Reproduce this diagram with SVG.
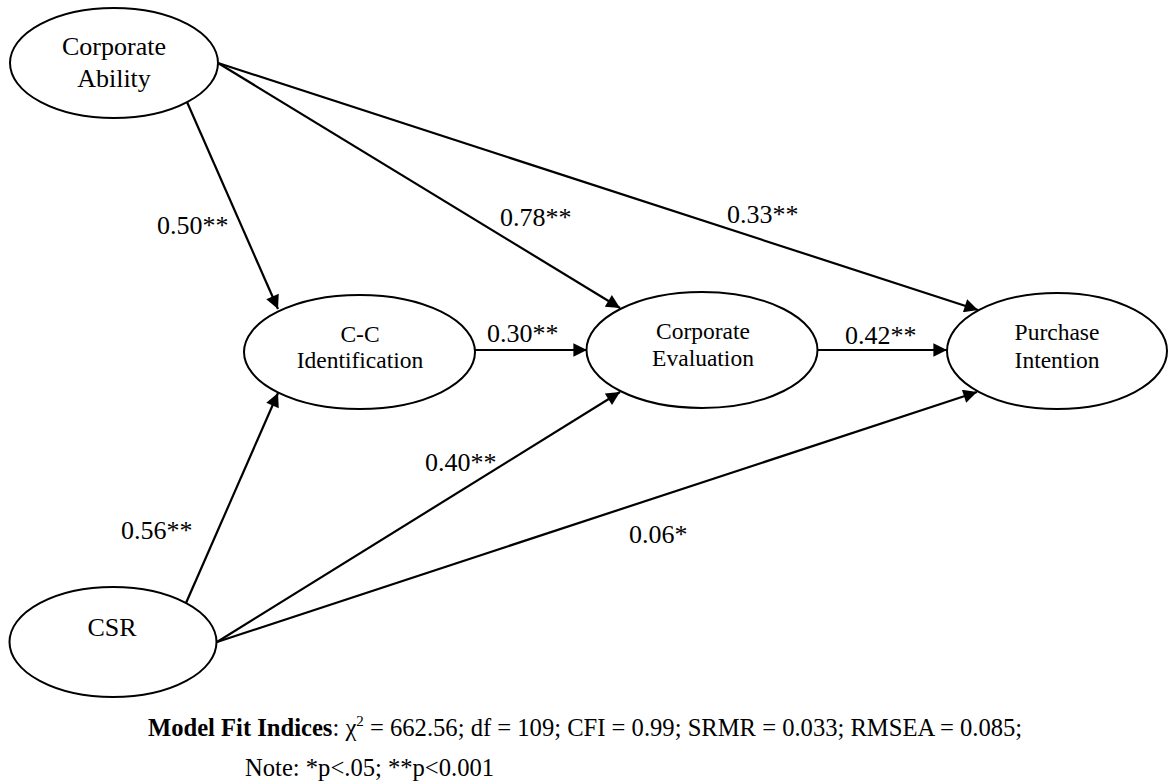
<svg xmlns="http://www.w3.org/2000/svg" width="1168" height="784" viewBox="0 0 1168 784">
  <style>
    .node ellipse { fill: #fff; stroke: #000; stroke-width: 2; }
    .node text { font-family: "Liberation Serif", "Times New Roman", serif; font-size: 23.5px; fill: #000; text-anchor: middle; }
    .node.big text { font-size: 26px; }
    .edge { stroke: #000; stroke-width: 2.2; fill: none; marker-end: url(#arrow); }
    .lbl { font-family: "Liberation Serif", "Times New Roman", serif; font-size: 26px; fill: #000; }
    .foot { font-family: "Liberation Serif", "Times New Roman", serif; font-size: 24.6px; fill: #000; }
  </style>
  <defs>
    <marker id="arrow" viewBox="0 0 10 10" refX="10" refY="5" markerWidth="7.5" markerHeight="6.2" markerUnits="strokeWidth" orient="auto">
      <path d="M0,0 L10,5 L0,10 z" fill="#000"/>
    </marker>
  </defs>
  <rect width="1168" height="784" fill="#fff"/>

  <!-- path connectors -->
  <g id="connectors">
    <line class="edge" x1="187" y1="102" x2="278" y2="309"/>
    <line class="edge" x1="218" y1="63" x2="620" y2="308"/>
    <line class="edge" x1="218" y1="63" x2="978" y2="310"/>
    <line class="edge" x1="475" y1="350" x2="587" y2="350"/>
    <line class="edge" x1="818" y1="350" x2="947" y2="350"/>
    <line class="edge" x1="186" y1="603" x2="278" y2="393"/>
    <line class="edge" x1="217" y1="642" x2="620" y2="392"/>
    <line class="edge" x1="217" y1="642" x2="977" y2="392"/>
  </g>

  <!-- path coefficients -->
  <g id="labels">
    <text class="lbl" x="157" y="234">0.50**</text>
    <text class="lbl" x="500" y="226">0.78**</text>
    <text class="lbl" x="727" y="223">0.33**</text>
    <text class="lbl" x="487" y="342">0.30**</text>
    <text class="lbl" x="845" y="344">0.42**</text>
    <text class="lbl" x="425" y="471">0.40**</text>
    <text class="lbl" x="121" y="539">0.56**</text>
    <text class="lbl" x="629" y="543">0.06*</text>
  </g>

  <g id="node-corporate-ability" class="node big">
    <ellipse cx="114" cy="63" rx="104" ry="55"/>
    <text x="114" y="55">Corporate</text>
    <text x="114" y="87">Ability</text>
  </g>
  <g id="node-cc-identification" class="node">
    <ellipse cx="359.5" cy="352" rx="115.5" ry="57"/>
    <text x="360" y="342">C-C</text>
    <text x="360" y="368">Identification</text>
  </g>
  <g id="node-corporate-evaluation" class="node">
    <ellipse cx="702" cy="350" rx="115.5" ry="58"/>
    <text x="703" y="339">Corporate</text>
    <text x="703" y="366">Evaluation</text>
  </g>
  <g id="node-purchase-intention" class="node">
    <ellipse cx="1057" cy="351" rx="110" ry="58"/>
    <text x="1057" y="340">Purchase</text>
    <text x="1057" y="368">Intention</text>
  </g>
  <g id="node-csr" class="node big">
    <ellipse cx="113" cy="642" rx="103.5" ry="55"/>
    <text x="112" y="636">CSR</text>
  </g>

  <!-- fit statistics -->
  <g id="footer">
    <text class="foot" x="148" y="736"><tspan font-weight="bold">Model Fit Indices</tspan>: χ<tspan font-size="15" dy="-10">2</tspan><tspan dy="10"> = 662.56; df = 109; CFI = 0.99; SRMR = 0.033; RMSEA = 0.085;</tspan></text>
    <text class="foot" x="245" y="776">Note: *p&lt;.05; **p&lt;0.001</text>
  </g>
</svg>
